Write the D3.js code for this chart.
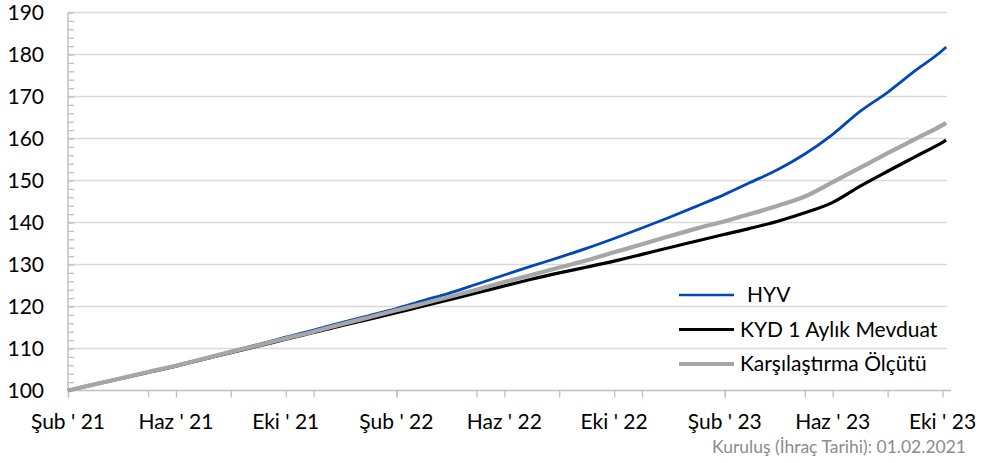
<!DOCTYPE html>
<html>
<head>
<meta charset="utf-8">
<script src="https://cdn.jsdelivr.net/npm/d3@7"></script>
<style>
  body { margin: 0; background: #fff; }
  svg { display: block; font-family: Lato, "Open Sans", sans-serif; }
  .grid line { stroke: #d9d9d9; stroke-width: 1.5; }
  .axis path, .axis line { stroke: #bfbfbf; stroke-width: 1.3; }
  .axis text { fill: #000; font-size: 21px; }
</style>
</head>
<body>
<svg></svg>
<script>
'use strict';

// monthly readings (1st of month) + last available day
var dates = ["2021-02-01", "2021-03-01", "2021-04-01", "2021-05-01", "2021-06-01", "2021-07-01",
    "2021-08-01", "2021-09-01", "2021-10-01", "2021-11-01", "2021-12-01", "2022-01-01",
    "2022-02-01", "2022-03-01", "2022-04-01", "2022-05-01", "2022-06-01", "2022-07-01",
    "2022-08-01", "2022-09-01", "2022-10-01", "2022-11-01", "2022-12-01", "2023-01-01",
    "2023-02-01", "2023-03-01", "2023-04-01", "2023-05-01", "2023-06-01", "2023-07-01",
    "2023-08-01", "2023-09-01", "2023-10-01", "2023-10-05"];

var hyv = [100, 101.4, 102.9, 104.4, 106.0, 107.6, 109.3, 111.0, 112.7, 114.4, 116.1, 117.8,
    119.5, 121.3, 123.2, 125.3, 127.5, 129.6, 131.7, 133.9, 136.2, 138.7, 141.2, 143.9,
    146.7, 149.5, 152.6, 156.3, 161.0, 166.4, 171.0, 176.2, 181.0, 181.8];

var kyd = [100, 101.4, 102.9, 104.3, 105.8, 107.4, 109.0, 110.6, 112.2, 113.8, 115.4, 116.9,
    118.5, 120.0, 121.6, 123.2, 124.9, 126.5, 128.0, 129.4, 130.8, 132.4, 134.0, 135.6,
    137.2, 138.6, 140.3, 142.3, 144.8, 148.6, 152.2, 155.7, 159.1, 159.6];

var olcut = [100, 101.4, 102.9, 104.4, 105.9, 107.5, 109.2, 110.8, 112.4, 114.0, 115.7, 117.4,
    119.1, 120.6, 122.3, 124.0, 125.8, 127.5, 129.3, 131.0, 132.9, 134.8, 136.7, 138.6,
    140.3, 142.0, 144.0, 146.2, 149.6, 153.0, 156.5, 159.9, 163.2, 163.7];

var seriesNames = ["HYV", "KYD 1 Aylık Mevduat", "Karşılaştırma Ölçütü"];
var seriesColors = ["#0047bb", "#000000", "#a6a6a6"];
var seriesWidths = [2.8, 3.2, 4.2];

var yTicks = [100, 110, 120, 130, 140, 150, 160, 170, 180, 190];
var monthNames = ["Oca", "Şub", "Mar", "Nis", "May", "Haz", "Tem", "Ağu", "Eyl", "Eki", "Kas", "Ara"];
var footnote = "Kuruluş (İhraç Tarihi): 01.02.2021";

var width = 985;
var height = 463;
var parse = d3.timeParse("%Y-%m-%d");

var svg = d3.select("svg")
    .attr("width", width)
    .attr("height", height);

var x = d3.scaleTime()
    .domain([parse("2021-02-01"), parse("2023-10-06")])
    .range([68, 947]);

var y = d3.scaleLinear()
    .domain([100, 190])
    .range([390.5, 12.5]);

// gridlines
svg.append("g")
    .attr("class", "grid")
    .selectAll("line")
    .data(yTicks.slice(1))
    .enter()
    .append("line")
    .attr("x1", x.range()[0])
    .attr("x2", x.range()[1])
    .attr("y1", function (d) { return y(d); })
    .attr("y2", function (d) { return y(d); });

// y axis: minor ticks every 2, pointing inside
var yMinor = d3.range(100, 190.1, 2);
svg.append("g")
    .attr("class", "axis")
    .attr("transform", "translate(68,0)")
    .call(d3.axisRight(y).tickValues(yMinor).tickSize(6).tickFormat(""))
    .call(function (g) { g.select(".domain").remove(); });

svg.append("line")
    .attr("x1", 68).attr("x2", 68)
    .attr("y1", y(190)).attr("y2", y(100))
    .attr("stroke", "#bfbfbf").attr("stroke-width", 1.5);

svg.append("g")
    .selectAll("text")
    .data(yTicks)
    .enter()
    .append("text")
    .attr("x", 44)
    .attr("y", function (d) { return y(d); })
    .attr("dy", "0.35em")
    .attr("text-anchor", "end")
    .style("font-size", "21px")
    .text(function (d) { return d; });

// x axis: ticks every 3 and every 4 months, labels every 4 months
var start = parse("2021-02-01");
var end = parse("2023-10-02");
var months = d3.timeMonth.every(1).range(start, end);
var labelDates = months.filter(function (d, i) { return i % 4 === 0; });
var quarterDates = months.filter(function (d, i) { return i % 3 === 0; });
var tickDates = labelDates.concat(quarterDates).sort(function (a, b) { return a - b; });

var xAxis = svg.append("g")
    .attr("class", "axis")
    .attr("transform", "translate(0,390.5)")
    .call(d3.axisBottom(x).tickValues(tickDates).tickSize(7).tickFormat(""));
xAxis.select(".domain")
    .attr("d", "M68,0H951")
    .attr("stroke", "#d9d9d9")
    .attr("stroke-width", 1.8);

svg.append("g")
    .selectAll("text")
    .data(labelDates)
    .enter()
    .append("text")
    .attr("x", function (d) { return x(d); })
    .attr("y", 429)
    .attr("text-anchor", "middle")
    .style("font-size", "21px")
    .text(function (d) {
        return monthNames[d.getMonth()] + " ' " + String(d.getFullYear()).slice(2);
    });

// lines
var allSeries = [hyv, kyd, olcut];
var line = d3.line()
    .x(function (d, i) { return x(parse(dates[i])); })
    .y(function (d) { return y(d); })
    .curve(d3.curveMonotoneX);

svg.append("g")
    .selectAll("path")
    .data(allSeries)
    .enter()
    .append("path")
    .attr("fill", "none")
    .attr("stroke", function (d, i) { return seriesColors[i]; })
    .attr("stroke-width", function (d, i) { return seriesWidths[i]; })
    .attr("stroke-linejoin", "round")
    .attr("d", line);

// legend
var legend = svg.append("g")
    .selectAll("g")
    .data(seriesNames)
    .enter()
    .append("g")
    .attr("transform", function (d, i) { return "translate(679," + (295 + i * 34.5) + ")"; });

legend.append("line")
    .attr("x1", 0).attr("x2", 55)
    .attr("stroke", function (d, i) { return seriesColors[i]; })
    .attr("stroke-width", function (d, i) { return seriesWidths[i] - 0.3; });

legend.append("text")
    .attr("x", function (d, i) { return i === 0 ? 68 : 61; })
    .attr("dy", "0.35em")
    .style("font-size", "21px")
    .text(function (d) { return d; });

svg.append("text")
    .attr("x", 966)
    .attr("y", 453)
    .attr("text-anchor", "end")
    .attr("fill", "#8c8c8c")
    .style("font-size", "17.5px")
    .text(footnote);
</script>
</body>
</html>
